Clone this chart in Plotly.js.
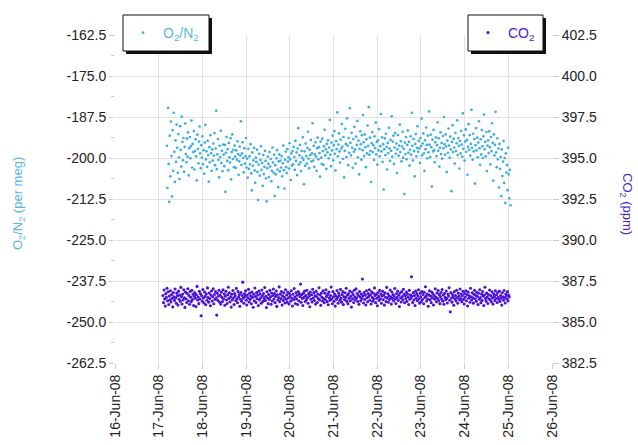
<!DOCTYPE html>
<html>
<head>
<meta charset="utf-8">
<script src="https://cdn.plot.ly/plotly-3.0.1.min.js"></script>
<style>html,body{margin:0;padding:0;background:#fff;}#chart{width:638px;height:445px;}</style>
</head>
<body>
<div id="chart"></div>
<script>
// ---- data ----
const o2Start = '2008-06-17T04:30:00';
const o2StepMinutes = 18.9;
const o2Values = [
-196.3,-209.1,-184.7,-201.8,-213.4,-193.2,-205.6,-188.9,-199.4,-211.7,-191.5,-203.9,-186.2,-198.1,-207.3,-194.6,-201.2,-189.8,-196.9,-204.5,
-192.7,-199.8,-206.4,-190.3,-197.5,-202.6,-187.4,-195.1,-200.7,-193.9,-204.2,-196.6,-189.5,-198.8,-201.3,-194.1,-199.6,-192.2,-205.3,-197.0,
-193.6,-200.1,-196.4,-188.6,-202.9,-195.7,-198.2,-191.8,-203.5,-197.9,-194.3,-199.5,-206.8,-192.9,-197.2,-201.6,-195.0,-190.4,-198.6,-203.1,
-196.1,-199.9,-193.4,-201.9,-197.6,-204.8,-195.3,-189.9,-200.4,-198.0,-202.7,-194.8,-199.1,-207.2,-196.7,-201.3,-193.0,-198.5,-203.9,-197.4,
-200.8,-195.6,-199.3,-192.4,-202.2,-197.1,-185.6,-203.4,-198.9,-194.2,-200.6,-205.9,-196.3,-199.7,-191.7,-201.5,-197.8,-204.0,-195.9,-199.0,
-202.5,-196.0,-210.3,-198.4,-193.6,-200.9,-197.3,-203.7,-195.4,-199.8,-201.4,-194.0,-206.5,-198.2,-192.8,-200.3,-197.5,-202.8,-196.2,-199.6,
-203.0,-197.7,-200.5,-194.9,-198.8,-205.1,-201.0,-196.5,-199.2,-188.8,-202.1,-198.6,-195.2,-200.0,-204.4,-197.0,-201.7,-199.4,-193.9,-202.9,
-200.2,-206.0,-197.2,-203.3,-199.5,-201.9,-195.8,-204.7,-209.9,-198.3,-202.4,-200.7,-196.9,-203.8,-207.6,-199.9,-201.2,-197.5,-204.2,-212.8,
-202.0,-198.7,-205.4,-200.6,-196.4,-203.6,-201.5,-208.5,-199.1,-204.9,-202.7,-197.8,-200.9,-206.2,-213.2,-203.1,-199.6,-201.8,-205.8,-198.2,
-202.6,-200.3,-207.1,-203.9,-196.8,-201.4,-204.5,-199.0,-211.6,-202.2,-205.0,-200.1,-197.6,-203.5,-208.9,-201.0,-198.9,-204.1,-200.8,-202.9,
-199.4,-205.6,-201.6,-196.2,-203.7,-209.3,-200.5,-198.1,-202.8,-204.6,-197.3,-201.1,-199.8,-203.2,-195.5,-200.4,-206.7,-198.6,-202.3,-197.9,
-201.9,-196.6,-199.7,-203.6,-194.8,-200.9,-198.3,-205.2,-197.1,-190.9,-202.0,-199.2,-196.0,-201.3,-204.0,-197.8,-199.9,-193.7,-200.6,-208.0,
-198.0,-202.4,-195.6,-199.4,-201.7,-196.9,-192.0,-200.2,-203.1,-197.5,-199.1,-194.5,-201.0,-198.6,-189.4,-200.8,-196.3,-202.7,-198.9,-195.2,
-199.6,-203.9,-197.0,-193.8,-200.4,-196.7,-198.5,-205.7,-195.0,-199.9,-201.8,-194.1,-197.9,-202.1,-196.4,-191.4,-199.2,-197.4,-203.3,-195.7,
-198.3,-194.6,-200.1,-196.8,-188.4,-199.0,-202.5,-195.3,-197.7,-193.2,-200.7,-196.1,-191.8,-198.7,-203.8,-194.9,-197.3,-186.1,-199.5,-195.9,
-192.5,-198.0,-201.4,-194.4,-197.1,-189.6,-196.5,-200.3,-193.6,-205.9,-197.8,-191.1,-195.7,-199.7,-187.9,-196.2,-202.2,-193.9,-198.4,-184.8,
-195.4,-199.2,-192.3,-196.9,-203.0,-194.2,-198.1,-190.5,-197.4,-201.7,-193.5,-196.0,-188.7,-199.8,-194.7,-205.0,-197.2,-191.9,-195.8,-200.5,
-193.1,-197.6,-186.9,-195.2,-199.4,-192.8,-196.7,-202.8,-194.3,-198.6,-190.1,-196.3,-184.5,-199.0,-193.8,-197.9,-207.3,-195.5,-192.1,-198.2,
-196.1,-200.6,-193.4,-197.0,-189.2,-198.9,-195.1,-202.0,-194.6,-197.7,-191.2,-199.5,-196.4,-186.6,-198.0,-193.7,-201.2,-195.8,-209.6,-197.3,
-194.0,-199.1,-192.6,-196.6,-203.5,-195.4,-198.5,-190.8,-197.1,-200.9,-194.5,-197.8,-187.3,-199.6,-195.0,-193.2,-201.8,-196.8,-192.4,-198.7,
-195.6,-204.6,-197.4,-193.0,-199.3,-196.2,-189.8,-198.2,-194.9,-201.0,-196.5,-192.0,-199.9,-197.2,-211.0,-195.3,-198.8,-193.6,-200.4,-196.0,
-191.6,-198.4,-195.1,-202.3,-197.5,-193.4,-199.0,-186.2,-196.3,-200.7,-194.2,-197.9,-205.6,-195.7,-192.7,-199.5,-196.9,-190.3,-198.1,-194.8,
-197.1,-201.5,-193.9,-196.4,-188.0,-199.2,-195.6,-192.5,-198.6,-203.9,-194.6,-197.3,-190.7,-196.0,-200.1,-193.2,-198.3,-185.8,-195.9,-199.7,
-192.9,-196.7,-208.7,-194.4,-198.0,-191.4,-197.6,-201.3,-195.2,-193.7,-199.4,-196.1,-189.1,-197.8,-194.0,-202.6,-196.9,-192.2,-198.8,-195.4,
-200.2,-193.3,-197.0,-187.5,-195.8,-199.0,-192.8,-196.5,-204.3,-194.7,-198.4,-191.0,-196.2,-199.9,-193.5,-197.4,-210.1,-195.1,-190.0,-198.2,
-194.1,-196.8,-201.7,-192.3,-197.9,-195.5,-188.5,-199.1,-193.9,-196.3,-203.2,-194.8,-198.6,-191.7,-195.9,-199.6,-186.4,-197.2,-193.1,-200.8,
-195.0,-191.3,-198.1,-194.5,-205.1,-196.6,-189.7,-197.5,-193.0,-199.3,-195.7,-185.3,-196.9,-200.5,-192.6,-198.0,-194.2,-207.8,-196.1,-190.9,
-197.7,-193.8,-199.8,-195.3,-188.8,-197.0,-202.1,-194.3,-198.9,-191.5,-196.4,-200.0,-193.4,-186.8,-197.3,-195.1,-199.5,-192.1,-204.0,-196.2,
-194.6,-198.5,-191.9,-196.7,-201.9,-193.6,-197.9,-189.4,-195.4,-206.9,-192.8,-199.2,-196.0,-185.9,-198.3,-202.8,-194.0,-200.4,-197.1,-209.0,
-195.7,-203.3,-199.7,-211.6,-197.4,-205.5,-201.1,-194.8,-207.6,-200.0,-213.7,-198.6,-204.4,-202.2,-209.8,-196.9,-205.0,-212.3,-203.6,-214.4
];
const co2Start = '2008-06-17T02:20:00';
const co2StepMinutes = 19.05;
const co2Values = [
386.62,386.18,386.95,386.41,385.97,386.73,386.50,387.06,386.29,386.84,386.07,386.58,386.36,386.91,386.22,386.67,386.44,385.92,386.80,386.53,
386.31,387.01,386.47,386.14,386.76,386.59,386.03,386.88,386.39,386.65,386.26,387.11,386.55,386.10,386.70,386.35,386.97,386.48,385.89,386.82,
386.42,386.19,386.74,387.03,386.30,386.61,386.08,386.86,386.51,386.24,386.93,386.37,386.69,386.01,386.57,386.79,386.45,385.94,386.66,387.17,
386.34,386.52,386.12,386.87,386.40,386.72,385.38,386.60,386.27,386.98,386.46,386.16,386.83,386.56,386.05,386.71,386.33,387.08,386.49,386.21,
386.77,386.43,385.99,386.64,386.89,386.28,386.54,387.02,386.11,386.68,386.38,386.85,386.47,385.42,386.75,386.32,386.58,386.94,386.20,386.63,
386.09,386.81,386.50,386.25,386.96,386.40,386.70,386.02,386.57,386.87,386.34,386.13,386.66,387.12,386.44,386.78,386.23,386.53,385.91,386.69,
386.36,386.92,386.48,386.06,386.74,386.59,386.30,387.05,386.41,386.17,386.85,386.52,386.67,385.96,386.39,386.80,386.27,386.61,387.43,386.45,
386.14,386.72,386.56,386.90,386.33,386.04,386.64,386.47,386.99,386.22,386.76,386.38,386.58,386.11,386.83,386.50,385.90,386.69,386.29,387.07,
386.55,386.19,386.79,386.42,386.63,386.00,386.88,386.35,386.71,386.48,386.15,386.95,386.60,386.26,386.74,386.44,387.10,386.31,386.57,385.88,
386.84,386.46,386.12,386.68,386.37,386.93,386.53,386.08,386.77,386.28,386.62,387.01,386.40,386.73,386.18,386.56,386.89,385.95,386.66,386.34,
386.49,387.14,386.24,386.70,386.43,386.86,386.03,386.59,386.32,386.78,386.51,386.16,386.97,386.39,386.65,386.21,386.82,386.47,386.10,386.74,
386.58,386.27,386.91,386.45,385.98,386.69,386.36,387.04,386.52,386.13,386.80,386.41,386.63,386.07,386.85,386.30,386.72,386.55,387.31,386.20,
386.67,386.44,386.01,386.76,386.50,386.88,386.25,386.61,386.35,386.94,386.48,386.14,386.73,386.57,385.93,386.83,386.39,386.66,386.22,387.00,
386.46,386.79,386.31,386.60,386.09,386.87,386.54,386.19,386.71,386.42,387.09,386.34,386.64,386.02,386.77,386.51,386.28,386.90,386.43,386.17,
386.75,386.37,386.96,386.56,386.24,386.68,386.05,386.82,386.47,386.33,386.62,387.13,386.40,386.11,386.85,386.53,386.26,386.70,385.97,386.59,
386.38,386.92,386.49,386.15,386.76,386.60,386.32,386.99,386.44,386.21,386.67,386.85,386.06,386.54,386.36,386.78,386.50,387.06,386.27,386.63,
386.12,386.72,386.45,386.89,386.30,386.57,385.91,386.81,386.41,386.68,386.19,386.94,386.53,386.35,387.02,386.46,386.74,386.25,386.61,386.08,
386.86,386.52,386.29,386.70,386.43,387.62,386.58,386.16,386.79,386.37,386.64,386.04,386.91,386.48,386.23,386.73,386.55,386.97,386.33,386.66,
386.10,386.84,386.50,386.27,386.75,386.40,387.08,386.62,386.18,386.69,386.45,385.99,386.80,386.56,386.31,386.93,386.42,386.71,386.14,386.59,
386.87,386.36,386.65,386.03,386.78,386.51,386.24,387.11,386.47,386.72,386.20,386.60,386.38,386.95,386.54,386.09,386.83,386.44,386.67,386.28,
386.58,387.04,386.41,386.13,386.74,386.50,386.89,386.32,386.63,385.94,386.77,386.46,386.22,386.85,386.55,386.35,387.00,386.69,386.17,386.61,
386.43,386.82,386.26,386.70,386.52,386.07,386.93,386.39,386.66,386.48,387.76,386.57,386.19,386.79,386.34,386.62,386.01,386.88,386.45,386.73,
386.30,386.60,386.97,386.42,386.15,386.76,386.53,386.25,386.86,386.37,386.68,386.11,386.81,386.49,387.15,386.56,386.28,386.71,386.40,385.96,
386.64,386.90,386.35,386.58,386.18,386.83,386.47,386.72,386.04,386.61,386.39,387.03,386.52,386.23,386.77,386.45,386.92,386.31,386.67,386.12,
386.55,386.80,386.40,386.98,386.27,386.65,386.08,386.74,386.50,386.36,386.89,386.44,386.16,386.70,386.58,387.09,386.33,385.62,386.79,386.46,
386.21,386.68,386.53,386.02,386.85,386.41,386.62,386.29,386.94,386.48,386.14,386.76,386.57,386.35,387.01,386.43,386.71,386.24,386.60,386.87,
386.38,386.10,386.73,386.51,386.91,386.30,386.66,385.98,386.82,386.45,386.59,386.20,387.06,386.54,386.34,386.78,386.47,386.15,386.69,386.93,
386.42,386.63,386.26,386.81,386.55,386.06,386.75,386.39,386.97,386.49,386.18,386.70,386.32,386.86,386.58,386.01,386.64,387.12,386.44,386.27,
386.76,386.52,386.13,386.68,386.40,386.95,386.35,386.61,386.23,386.84,386.47,386.09,386.72,386.56,386.31,386.90,386.43,386.66,386.19,386.80,
386.50,386.37,386.88,386.25,386.62,386.45,386.03,386.78,386.54,386.33,386.92,386.48,386.16,386.71,386.59,386.40,386.85,386.29,386.64,386.52
];
const leftTickVals = [-262.5,-250,-237.5,-225,-212.5,-200,-187.5,-175,-162.5];
const leftTickText = ['-262.5','-250.0','-237.5','-225.0','-212.5','-200.0','-187.5','-175.0','-162.5'];
const leftMinorVals = [-256.25,-243.75,-231.25,-218.75,-206.25,-193.75,-181.25,-168.75];
const rightTickVals = [382.5,385,387.5,390,392.5,395,397.5,400,402.5];
const rightTickText = ['382.5','385.0','387.5','390.0','392.5','395.0','397.5','400.0','402.5'];
const xRange = ['2008-06-16','2008-06-26'];

// ---- build time stamps ----
function times(start, stepMin, n) {
  const t0 = new Date(start + 'Z').getTime();
  const out = [];
  for (let i = 0; i < n; i++) {
    const d = new Date(t0 + i * stepMin * 60000);
    out.push(d.toISOString().slice(0, 19).replace('T', ' '));
  }
  return out;
}

const O2C = '#3DAEE0';
const CO2C = '#4A12D8';
const FONT = 'Liberation Sans, Arial, sans-serif';

// plot area in pixels
const L = 115, R = 552, T = 35, B = 363;
const px = x => (x - L) / (R - L);
const py = y => (B - y) / (B - T);

function box(x0, y0, x1, y1) {
  return [
    {type:'rect', xref:'paper', yref:'paper', x0:px(x0+3), x1:px(x1+3), y0:py(y1+3), y1:py(y0+3),
     line:{width:0}, fillcolor:'#111', layer:'above'},
    {type:'rect', xref:'paper', yref:'paper', x0:px(x0), x1:px(x1), y0:py(y1), y1:py(y0),
     line:{width:1, color:'#111'}, fillcolor:'#fff', layer:'above'}
  ];
}

const traces = [
  {x: times(o2Start, o2StepMinutes, o2Values.length), y: o2Values, type:'scatter', mode:'markers',
   name:'O<sub>2</sub>/N<sub>2</sub>', marker:{color:O2C, size:2.7}, yaxis:'y', legend:'legend'},
  {x: times(co2Start, co2StepMinutes, co2Values.length), y: co2Values, type:'scatter', mode:'markers',
   name:'CO<sub>2</sub>', marker:{color:CO2C, size:3.1}, yaxis:'y2', legend:'legend2'}
];

const layout = {
  width:638, height:445,
  margin:{l:L, r:638-R, t:T, b:445-B},
  paper_bgcolor:'#fff', plot_bgcolor:'#fff',
  font:{family:FONT, size:14, color:'#222'},
  showlegend:true,
  xaxis:{type:'date', range:xRange, tick0:'2008-06-16', dtick:86400000, tickformat:'%d-%b-%y',
    tickangle:-90, showgrid:true, gridcolor:'#e2e2e2', ticks:'outside', ticklen:5, tickcolor:'#ccc',
    zeroline:false, showline:false, tickfont:{size:14}},
  yaxis:{range:[-262.5,-162.5], tickmode:'array', tickvals:leftTickVals, ticktext:leftTickText,
    showgrid:true, gridcolor:'#e2e2e2', ticks:'outside', ticklen:5, tickcolor:'#ccc', zeroline:false,
    showline:false, tickfont:{size:14},
    minor:{tickmode:'array', tickvals:leftMinorVals, ticks:'outside', ticklen:3, tickcolor:'#ccc', showgrid:false}},
  yaxis2:{range:[382.5,402.5], overlaying:'y', side:'right', tickmode:'array', tickvals:rightTickVals,
    ticktext:rightTickText, showgrid:false, ticks:'outside', ticklen:6, tickcolor:'#ccc', zeroline:false,
    showline:false, tickfont:{size:14}},
  legend:{x:px(123), y:py(33), xanchor:'left', yanchor:'middle', bgcolor:'rgba(0,0,0,0)', borderwidth:0,
    font:{size:14, color:'#5BB6E6'}},
  legend2:{x:px(468), y:py(33), xanchor:'left', yanchor:'middle', bgcolor:'rgba(0,0,0,0)', borderwidth:0,
    font:{size:14, color:'#4B1ED0'}},
  shapes:[...box(123,15,209,51), ...box(468,15,543,51)],
  annotations:[
    {text:'O<sub>2</sub>/N<sub>2</sub> (per meg)', xref:'paper', yref:'paper', x:px(18), y:py(204),
     xanchor:'center', yanchor:'middle', textangle:-90, showarrow:false, font:{size:13, color:'#5BB6E6'}},
    {text:'CO<sub>2</sub> (ppm)', xref:'paper', yref:'paper', x:px(627), y:py(204),
     xanchor:'center', yanchor:'middle', textangle:90, showarrow:false, font:{size:13, color:'#4B1ED0'}}
  ]
};

Plotly.newPlot('chart', traces, layout, {staticPlot:true, displayModeBar:false});
</script>
</body>
</html>
